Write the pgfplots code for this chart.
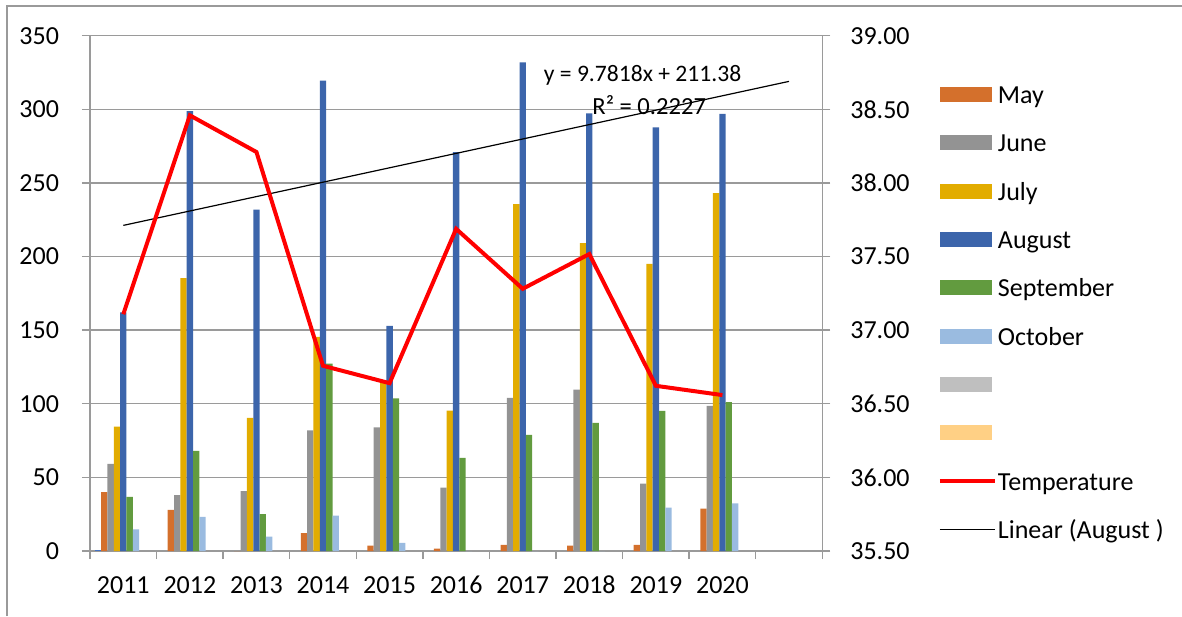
\documentclass[border=0pt]{standalone}
\usepackage{pgfplots}
\pgfplotsset{compat=1.18}
\usepackage{fontspec}
\setmainfont{Carlito}
\definecolor{cMay}{HTML}{D4702C}
\definecolor{cJun}{HTML}{939393}
\definecolor{cJul}{HTML}{E2AC00}
\definecolor{cAug}{HTML}{3C65AB}
\definecolor{cSep}{HTML}{629B3F}
\definecolor{cOct}{HTML}{9ABBE0}
\definecolor{cE1}{HTML}{BFBFBF}
\definecolor{cE2}{HTML}{FFD085}
\definecolor{cX}{HTML}{4472C4}
\definecolor{gridc}{HTML}{9A9A9A}
\pgfplotsset{
  barleg/.style={legend image code/.code={\fill[##1] (0pt,-3.75pt) rectangle (26pt,3.75pt);}},
  lineleg/.style={legend image code/.code={\draw[##1] (0pt,0pt) -- (27.5pt,0pt);}},
}
\begin{document}
\begin{tikzpicture}
\useasboundingbox (0pt,0pt) rectangle (591pt,308pt);
\draw[gridc, line width=0.75pt] (3.5pt,0pt) -- (3.5pt,305pt) -- (591pt,305pt);
\begin{axis}[
  at={(45pt,32.5pt)}, anchor=south west,
  scale only axis, width=366.15pt, height=257.65pt,
  xmin=-0.5, xmax=10.5, ymin=0, ymax=350,
  axis x line*=bottom, axis y line*=left,
  axis line style={gridc, line width=0.7pt, -},
  xtick={-0.5,0.5,...,10.5},
  x tick label as interval,
  xticklabels={2011,2012,2013,2014,2015,2016,2017,2018,2019,2020,{}},
  ytick={0,50,...,350},
  ymajorgrids, grid style={gridc, line width=0.7pt},
  tick align=outside, major tick length=4pt,
  tick style={gridc, line width=0.7pt},
  /pgf/number format/assume math mode=true,
  tick label style={font=\fontsize{13}{15}\selectfont, text=black},
  xticklabel style={yshift=-5.5pt, text height=8.4pt, text depth=0pt},
  yticklabel style={xshift=-8pt},
  ybar=0pt, bar width=3.17pt,
  clip=false,
  legend style={at={(1.1574,0.9175)}, anchor=north west, draw=none, fill=none,
    font=\fontsize{13}{15}\selectfont, row sep=8.15pt,
    legend cell align=left, inner sep=0pt,
    nodes={inner xsep=0.5pt},
    /tikz/every odd column/.append style={column sep=0pt}},
]
\addplot[fill=cX, draw=none, bar shift=-12.68pt, forget plot] coordinates {(0,1)};
\addplot[fill=cMay, draw=none, bar shift=-9.51pt, barleg] coordinates {
(0,40.0) (1,28.0) (2,0) (3,12.2) (4,3.7) (5,1.6) (6,4.2) (7,3.7) (8,4.2) (9,28.8)};
\addlegendentry{\strut May}
\addplot[fill=cJun, draw=none, bar shift=-6.34pt, barleg] coordinates {
(0,59.1) (1,37.9) (2,40.7) (3,82.0) (4,84.0) (5,43.0) (6,104.0) (7,109.6) (8,45.8) (9,98.6)};
\addlegendentry{\strut June}
\addplot[fill=cJul, draw=none, bar shift=-3.17pt, barleg] coordinates {
(0,84.4) (1,185.4) (2,90.5) (3,145.4) (4,114.3) (5,95.4) (6,235.6) (7,209.2) (8,195.0) (9,243.1)};
\addlegendentry{\strut July}
\addplot[fill=cAug, draw=none, bar shift=0pt, barleg] coordinates {
(0,162.0) (1,298.7) (2,231.9) (3,319.5) (4,152.9) (5,270.9) (6,331.9) (7,297.3) (8,287.8) (9,296.9)};
\addlegendentry{\strut August}
\addplot[fill=cSep, draw=none, bar shift=3.17pt, barleg] coordinates {
(0,36.7) (1,68.0) (2,25.0) (3,127.2) (4,103.6) (5,63.3) (6,78.8) (7,87.0) (8,95.1) (9,101.2)};
\addlegendentry{\strut September}
\addplot[fill=cOct, draw=none, bar shift=6.34pt, barleg] coordinates {
(0,14.7) (1,23.1) (2,9.8) (3,24.1) (4,5.6) (5,0) (6,0) (7,0) (8,29.5) (9,32.3)};
\addlegendentry{\strut October}
\addlegendimage{barleg, fill=cE1, draw=none}
\addlegendentry{\strut}
\addlegendimage{barleg, fill=cE2, draw=none}
\addlegendentry{\strut}
\addlegendimage{lineleg, red, line width=2pt}
\addlegendentry{\strut Temperature}
\addplot[sharp plot, black, line width=0.6pt, lineleg] coordinates {(0,221.16) (10,318.98)};
\addlegendentry{\strut Linear (August )}
\node[font=\fontsize{11.8}{14}\selectfont, inner sep=0pt] at (axis cs:7.80,322.8) {y = 9.7818x + 211.38};
\node[font=\fontsize{12.3}{14}\selectfont, inner sep=0pt] at (axis cs:7.90,303.0) {R² = 0.2227};
\end{axis}
\begin{axis}[
  at={(45pt,32.5pt)}, anchor=south west,
  scale only axis, width=366.15pt, height=257.65pt,
  xmin=-0.5, xmax=10.5, ymin=35.5, ymax=39,
  axis x line=none, axis y line*=right,
  axis line style={gridc, line width=0.7pt, -},
  ytick={35.5,36,...,39},
  yticklabel={\pgfmathprintnumber[fixed, fixed zerofill, precision=2]{\tick}},
  tick align=outside, major tick length=4pt,
  tick style={gridc, line width=0.7pt},
  /pgf/number format/assume math mode=true,
  tick label style={font=\fontsize{13}{15}\selectfont, text=black},
  yticklabel style={xshift=6.5pt},
]
\addplot[red, line width=2pt, sharp plot] coordinates {
(0,37.108) (1,38.459) (2,38.21) (3,36.758) (4,36.64) (5,37.688) (6,37.281) (7,37.517) (8,36.622) (9,36.559)};
\end{axis}
\end{tikzpicture}
\end{document}
